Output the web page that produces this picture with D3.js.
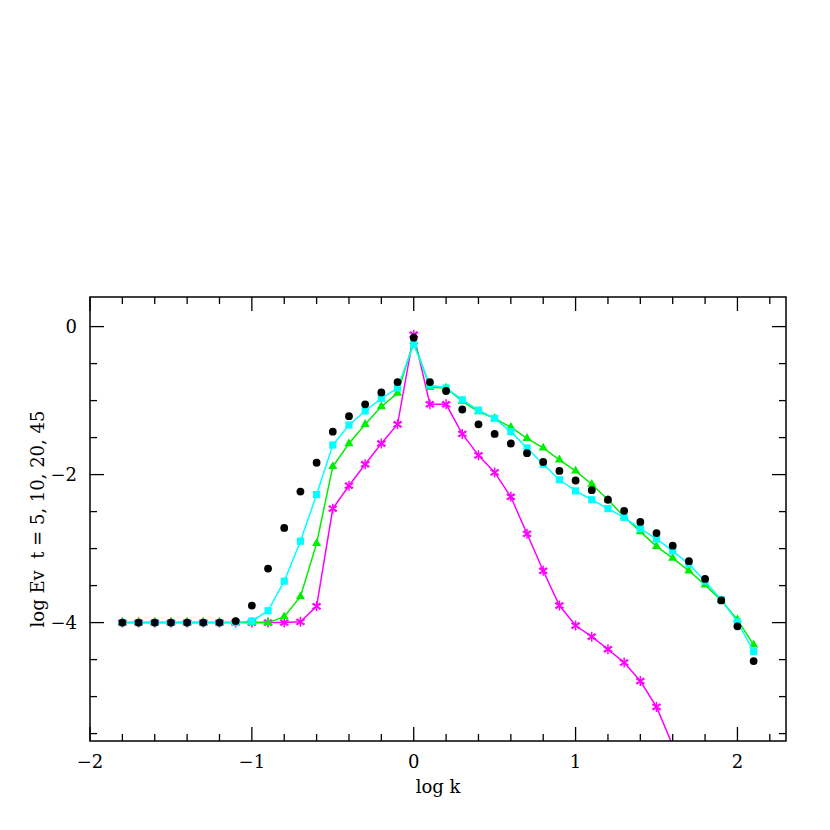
<!DOCTYPE html>
<html>
<head>
<meta charset="utf-8">
<script src="https://cdn.jsdelivr.net/npm/d3@7"></script>
<style>
  html, body { margin: 0; padding: 0; background: #fff; }
  svg { display: block; }
  text { font-family: "DejaVu Serif", "Liberation Serif", serif; fill: #000; }
</style>
</head>
<body>
<script>
// ---- data ----
const logK = [-1.8,-1.7,-1.6,-1.5,-1.4,-1.3,-1.2,-1.1,-1.0,-0.9,-0.8,-0.7,-0.6,-0.5,-0.4,-0.3,-0.2,-0.1,0.0,
  0.1,0.2,0.3,0.4,0.5,0.6,0.7,0.8,0.9,1.0,1.1,1.2,1.3,1.4,1.5,1.6,1.7,1.8,1.9,2.0,2.1];
const t5 = [-4,-4,-4,-4,-4,-4,-4,-3.98,-3.77,-3.27,-2.72,-2.23,-1.84,-1.42,-1.21,-1.05,-0.89,-0.75,-0.15,
  -0.75,-0.87,-1.12,-1.32,-1.45,-1.58,-1.71,-1.83,-1.95,-2.08,-2.21,-2.34,-2.49,-2.64,-2.79,-2.96,-3.17,-3.41,-3.70,-4.05,-4.52];
const t10 = [-4,-4,-4,-4,-4,-4,-4,-4,-3.98,-3.84,-3.44,-2.90,-2.27,-1.60,-1.33,-1.14,-0.97,-0.83,-0.24,
  -0.79,-0.83,-0.99,-1.13,-1.24,-1.42,-1.64,-1.86,-2.07,-2.22,-2.34,-2.46,-2.58,-2.73,-2.87,-3.03,-3.21,-3.44,-3.69,-3.99,-4.39];
const t20 = [-4,-4,-4,-4,-4,-4,-4,-4,-4,-4,-3.92,-3.65,-2.93,-1.89,-1.58,-1.32,-1.08,-0.90,-0.20,
  -0.82,-0.83,-1.01,-1.15,-1.24,-1.36,-1.51,-1.64,-1.80,-1.95,-2.13,-2.34,-2.57,-2.77,-2.97,-3.13,-3.30,-3.49,-3.70,-3.96,-4.30];
const t45 = [-4,-4,-4,-4,-4,-4,-4,-4,-4,-4,-4,-3.99,-3.78,-2.46,-2.15,-1.86,-1.58,-1.32,-0.11,
  -1.05,-1.05,-1.45,-1.74,-1.97,-2.30,-2.80,-3.30,-3.77,-4.04,-4.19,-4.36,-4.54,-4.79,-5.14,-5.66];
const xTickLabels = ["\u22122", "\u22121", "0", "1", "2"];
const yTickLabels = ["0", "\u22122", "\u22124"];
const xLabel = "log k";
const yLabel = "log Ev  t = 5, 10, 20, 45";

// ---- layout ----
const W = 830, H = 830;
const L = 90, T = 297, R = 786, B = 741;
const x = d3.scaleLinear().domain([-2, 2.3]).range([L, R]);
const y = d3.scaleLinear().domain([-5.6, 0.4]).range([B, T]);

const svg = d3.select("body").append("svg").attr("width", W).attr("height", H);
svg.append("defs").append("clipPath").attr("id", "clip")
  .append("rect").attr("x", L).attr("y", T).attr("width", R - L).attr("height", B - T);

const plot = svg.append("g").attr("clip-path", "url(#clip)");

function pts(vals) { return vals.map((v, i) => [logK[i], v]); }
const line = d3.line().x(d => x(d[0])).y(d => y(d[1]));

// draw order: magenta, green, cyan, black
const series = [
  { vals: t45, color: "#ff00ff", sym: "star", line: true },
  { vals: t20, color: "#00ee00", sym: "tri", line: true },
  { vals: t10, color: "#00ffff", sym: "sq", line: true },
  { vals: t5, color: "#000000", sym: "circ", line: false }
];

series.forEach(s => {
  const p = pts(s.vals);
  const g = plot.append("g");
  if (s.line) {
    g.append("path").attr("d", line(p)).attr("fill", "none")
      .attr("stroke", s.color).attr("stroke-width", 1.5);
  }
  p.forEach(d => {
    const cx = x(d[0]), cy = y(d[1]);
    if (s.sym === "circ") {
      g.append("circle").attr("cx", cx).attr("cy", cy).attr("r", 3.9).attr("fill", s.color);
    } else if (s.sym === "sq") {
      g.append("rect").attr("x", cx - 3.6).attr("y", cy - 3.6).attr("width", 7.2).attr("height", 7.2).attr("fill", s.color);
    } else if (s.sym === "tri") {
      g.append("path").attr("transform", `translate(${cx},${cy})`)
        .attr("d", d3.symbol().type(d3.symbolTriangle).size(36)()).attr("fill", s.color);
    } else {
      g.append("path").attr("transform", `translate(${cx},${cy})`)
        .attr("d", d3.symbol().type(d3.symbolAsterisk).size(70)())
        .attr("fill", "none").attr("stroke", s.color).attr("stroke-width", 1.5);
      g.append("path").attr("transform", `translate(${cx},${cy}) rotate(90)`)
        .attr("d", d3.symbol().type(d3.symbolTimes).size(30)())
        .attr("fill", "none").attr("stroke", s.color).attr("stroke-width", 1.2);
    }
  });
});

// ---- axes / frame ----
const axG = svg.append("g").attr("stroke", "#000").attr("stroke-width", 1.3);
const majorX = [-2, -1, 0, 1, 2];
const minorX = d3.range(-20, 24, 2).map(v => v / 10).filter(v => !majorX.some(m => Math.abs(m - v) < 1e-9));
const majorY = [0, -2, -4];
const minorY = d3.range(-11, 1).map(v => v / 2).filter(v => !majorY.includes(v));

function xt(v, len) {
  axG.append("line").attr("x1", x(v)).attr("x2", x(v)).attr("y1", B).attr("y2", B - len);
  axG.append("line").attr("x1", x(v)).attr("x2", x(v)).attr("y1", T).attr("y2", T + len);
}
function yt(v, len) {
  axG.append("line").attr("y1", y(v)).attr("y2", y(v)).attr("x1", L).attr("x2", L + len);
  axG.append("line").attr("y1", y(v)).attr("y2", y(v)).attr("x1", R).attr("x2", R - len);
}
majorX.forEach(v => xt(v, 14));
minorX.forEach(v => xt(v, 7));
majorY.forEach(v => yt(v, 14));
minorY.forEach(v => yt(v, 7));

svg.append("rect").attr("x", L).attr("y", T).attr("width", R - L).attr("height", B - T)
  .attr("fill", "none").attr("stroke", "#000").attr("stroke-width", 1.5);

// tick labels
svg.append("g").selectAll("text").data(majorX).join("text")
  .attr("x", d => x(d)).attr("y", 768).attr("text-anchor", "middle")
  .attr("font-size", 18).text((d, i) => xTickLabels[i]);
svg.append("g").selectAll("text").data(majorY).join("text")
  .attr("x", 77).attr("y", d => y(d) + 6.5).attr("text-anchor", "end")
  .attr("font-size", 18).text((d, i) => yTickLabels[i]);

// axis labels
svg.append("text").attr("x", (L + R) / 2).attr("y", 793).attr("text-anchor", "middle")
  .attr("font-size", 18).text(xLabel);
svg.append("text").attr("transform", `translate(44,${(T + B) / 2}) rotate(-90)`)
  .attr("text-anchor", "middle").attr("font-size", 18)
  .style("white-space", "pre").text(yLabel);
</script>
</body>
</html>
